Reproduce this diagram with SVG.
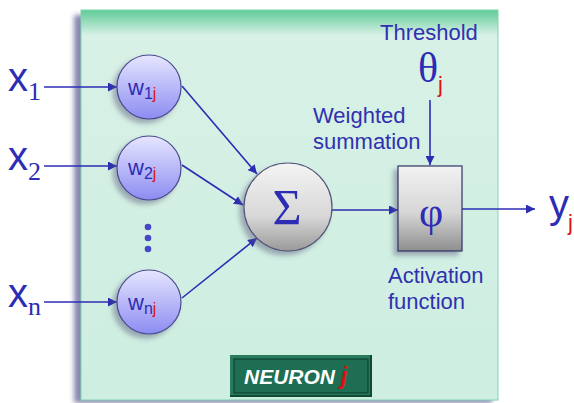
<svg xmlns="http://www.w3.org/2000/svg" width="574" height="403" viewBox="0 0 574 403">
<defs>
  <linearGradient id="panelG" x1="0" y1="0" x2="0" y2="1">
    <stop offset="0" stop-color="#5fcb98"/>
    <stop offset="0.065" stop-color="#d8f1e6"/>
    <stop offset="1" stop-color="#cdeee0"/>
  </linearGradient>
  <linearGradient id="wG" x1="0" y1="0" x2="0" y2="1">
    <stop offset="0" stop-color="#e6e6ff"/>
    <stop offset="1" stop-color="#8c8cf2"/>
  </linearGradient>
  <linearGradient id="sG" x1="0" y1="0" x2="0" y2="1">
    <stop offset="0" stop-color="#f4f4f4"/>
    <stop offset="0.6" stop-color="#d8d8d8"/>
    <stop offset="1" stop-color="#9a9a9a"/>
  </linearGradient>
  <linearGradient id="pG" x1="0" y1="0" x2="0" y2="1">
    <stop offset="0" stop-color="#f2f2f2"/>
    <stop offset="0.55" stop-color="#d6d6d6"/>
    <stop offset="1" stop-color="#8e8e8e"/>
  </linearGradient>
  <filter id="sh" x="-30%" y="-30%" width="160%" height="160%">
    <feDropShadow dx="-4" dy="4" stdDeviation="2.5" flood-color="#555577" flood-opacity="0.45"/>
  </filter>
  <filter id="psh" x="-10%" y="-10%" width="120%" height="120%">
    <feGaussianBlur stdDeviation="2.5"/>
  </filter>
  <marker id="ah" viewBox="0 0 10 10" refX="10" refY="5" markerWidth="9" markerHeight="9" markerUnits="userSpaceOnUse" orient="auto">
    <path d="M0,0 L10,5 L0,10 z" fill="#2c2cb4"/>
  </marker>
  <style>
    .lbl{font-family:"Liberation Sans",Arial,sans-serif;fill:#3030b0;font-size:22px}
    .big{font-family:"Liberation Sans",Arial,sans-serif;fill:#2c2cb4;font-size:40px}
    .ser{font-family:"Liberation Serif","Times New Roman",serif;fill:#2c2cb4}
    .w{font-family:"Liberation Sans",Arial,sans-serif;fill:#2c2cb4;font-size:22px}
    .sub{font-size:16px}
    .red{fill:#e01010}
    .wc{fill:url(#wG);stroke:#4a4a90;stroke-width:1.2;filter:url(#sh)}
    .con{stroke:#2c2cb4;stroke-width:1.6;fill:none;marker-end:url(#ah)}
  </style>
</defs>
<g id="panel">
  <rect x="74" y="15" width="418" height="388" fill="#8a88b0" filter="url(#psh)"/>
  <rect x="81" y="10" width="417" height="390" fill="url(#panelG)" stroke="#7fd5b0" stroke-width="1"/>
</g>
<g id="connectors">
  <line class="con" x1="44" y1="87" x2="117" y2="87"/>
  <line class="con" x1="44" y1="166" x2="117" y2="166"/>
  <line class="con" x1="44" y1="302" x2="117" y2="302"/>
  <line class="con" x1="182" y1="86" x2="257" y2="174"/>
  <line class="con" x1="182" y1="165" x2="243" y2="205"/>
  <line class="con" x1="182" y1="298" x2="257" y2="238"/>
  <line class="con" x1="332" y1="210" x2="398" y2="210"/>
  <line class="con" x1="462" y1="209" x2="535" y2="209"/>
  <line class="con" x1="430" y1="100" x2="430" y2="165"/>
</g>
<g id="x1"><text class="big" x="8" y="91">x</text><text class="ser" x="28" y="100" font-size="26">1</text></g>
<g id="x2"><text class="big" x="8" y="170">x</text><text class="ser" x="28" y="180" font-size="26">2</text></g>
<g id="xn"><text class="big" x="8" y="307">x</text><text class="ser" x="28" y="315" font-size="26">n</text></g>
<g id="w1"><circle class="wc" cx="149" cy="87" r="32"/><text class="w" x="128" y="95">w<tspan class="sub" dy="4">1</tspan><tspan class="sub red">j</tspan></text></g>
<g id="w2"><circle class="wc" cx="149" cy="168" r="32"/><text class="w" x="128" y="175">w<tspan class="sub" dy="4">2</tspan><tspan class="sub red">j</tspan></text></g>
<g id="dots" fill="#4848c4"><circle cx="148" cy="227" r="3.3"/><circle cx="148" cy="238" r="3.3"/><circle cx="148" cy="249" r="3.3"/></g>
<g id="wn"><circle class="wc" cx="149" cy="302" r="32"/><text class="w" x="128" y="310">w<tspan class="sub" dy="4">n</tspan><tspan class="sub red">j</tspan></text></g>
<g id="sum"><circle cx="288" cy="207" r="44" fill="url(#sG)" stroke="#555577" stroke-width="1.2" filter="url(#sh)"/><text class="ser" x="287" y="224" font-size="50" text-anchor="middle">Σ</text></g>
<g id="phi"><rect x="398" y="166" width="64" height="85" fill="url(#pG)" stroke="#333366" stroke-width="1.2" filter="url(#sh)"/><text class="ser" x="431" y="226" font-size="42" text-anchor="middle">φ</text></g>
<g id="theta"><text class="ser" x="418" y="82" font-size="42">θ</text><text class="lbl red" x="438" y="92" font-size="20">j</text></g>
<g id="yj"><text class="big" x="549" y="218">y</text><text class="lbl red" x="568" y="230" font-size="20">j</text></g>
<g id="labels">
  <text class="lbl" x="380" y="40">Threshold</text>
  <text class="lbl" x="313" y="123">Weighted</text>
  <text class="lbl" x="313" y="149">summation</text>
  <text class="lbl" x="388" y="283">Activation</text>
  <text class="lbl" x="388" y="309">function</text>
</g>
<g id="neuron">
  <rect x="230" y="355" width="142" height="42" fill="#0c4a36"/>
  <rect x="230" y="355" width="140" height="40" fill="#2a7a60"/>
  <rect x="234" y="359" width="134" height="34" fill="#1d6e53" stroke="#0a3a2a" stroke-width="1"/>
  <text x="244" y="384" font-family="Liberation Sans,Arial,sans-serif" font-size="21" font-weight="bold" font-style="italic" fill="#ffffff">NEURON <tspan fill="#e01010" font-size="24">j</tspan></text>
</g>
</svg>
